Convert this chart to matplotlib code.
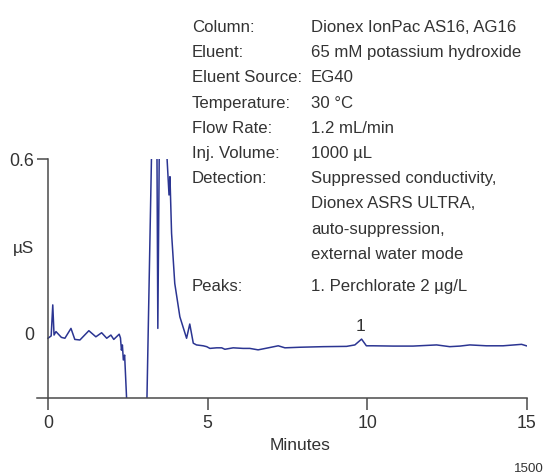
import matplotlib
matplotlib.use("Agg")
import matplotlib.pyplot as plt

# ---- data ----
time_min = [0.00, 0.10, 0.15, 0.19, 0.25, 0.42, 0.53, 0.72, 0.84, 1.00,
            1.28, 1.50, 1.68, 1.84, 1.97, 2.06, 2.23, 2.27, 2.30, 2.33,
            2.36, 2.40, 2.46, 2.50, 3.05, 3.10, 3.24, 3.30, 3.40, 3.44,
            3.49, 3.55, 3.73, 3.79, 3.82, 3.87, 3.97, 4.13, 4.34, 4.44,
            4.55, 4.65, 4.86, 4.97, 5.07, 5.28, 5.44, 5.54, 5.80, 6.11,
            6.32, 6.58, 6.90, 7.21, 7.42, 7.89, 8.62, 9.35, 9.61, 9.82,
            9.97, 10.18, 10.81, 11.43, 12.17, 12.58, 12.90, 13.21, 13.73,
            14.25, 14.83, 14.98]
signal_uS = [-0.017, -0.009, 0.098, -0.006, 0.006, -0.014, -0.017, 0.017, -0.021, -0.023,
             0.009, -0.012, 0.002, -0.017, -0.006, -0.021, -0.003, -0.016, -0.058, -0.040,
             -0.092, -0.075, -0.220, -0.300, -0.300, -0.220, 0.600, 2.000, 0.900, 0.017,
             0.700, 2.000, 0.600, 0.477, 0.540, 0.345, 0.172, 0.057, -0.017, 0.032,
             -0.034, -0.040, -0.043, -0.046, -0.052, -0.050, -0.050, -0.055, -0.050, -0.052,
             -0.052, -0.057, -0.050, -0.043, -0.050, -0.048, -0.046, -0.045, -0.040, -0.020,
             -0.043, -0.043, -0.044, -0.044, -0.040, -0.046, -0.044, -0.040, -0.043,
             -0.043, -0.038, -0.043]

x_ticks = [0, 5, 10, 15]
y_ticks = [0, 0.6]
y_tick_labels = ["0", "0.6"]

peak_labels = ["1"]
peak_times = [9.80]
peak_label_y = [0.025]

cond_labels = ["Column:", "Eluent:", "Eluent Source:", "Temperature:", "Flow Rate:",
               "Inj. Volume:", "Detection:", "", "", "", "Peaks:"]
cond_values = ["Dionex IonPac AS16, AG16", "65 mM potassium hydroxide", "EG40",
               "30 °C", "1.2 mL/min", "1000 µL", "Suppressed conductivity,",
               "Dionex ASRS ULTRA,", "auto-suppression,", "external water mode",
               "1. Perchlorate 2 µg/L"]

# ---- styling ----
FONT = ["Liberation Sans", "DejaVu Sans"]
plt.rcParams["font.family"] = FONT
TXT = "#333333"
AX = "#4a4a4a"
TRACE = "#2b3592"

W, H = 543, 476
fig = plt.figure(figsize=(W / 100, H / 100), dpi=100)

left_px, right_px, top_px, bot_px = 36.8, 527.0, 159.3, 398.0
ax = fig.add_axes([left_px / W, 1 - bot_px / H, (right_px - left_px) / W, (bot_px - top_px) / H])
ax.set_xlim(-0.35, 15)
ax.set_ylim(-0.223, 0.6)

ax.plot(time_min, signal_uS, color=TRACE, lw=1.1, solid_joinstyle="round")

for s in ("top", "right"):
    ax.spines[s].set_visible(False)
ax.spines["left"].set_position(("data", 0))
for s in ("left", "bottom"):
    ax.spines[s].set_color(AX)
    ax.spines[s].set_linewidth(1.1)

ax.set_xticks(x_ticks)
ax.set_xticklabels([str(t) for t in x_ticks])
ax.set_yticks(y_ticks)
ax.set_yticklabels(y_tick_labels)
ax.tick_params(axis="x", direction="out", length=8.6, width=1.1, color=AX,
               pad=3.6, labelsize=12.8, labelcolor=TXT)
ax.tick_params(axis="y", direction="out", length=8.1, width=1.1, color=AX,
               pad=1.7, labelsize=12.8, labelcolor=TXT)
ax.yaxis.get_major_ticks()[0].tick1line.set_visible(False)

for lab, t, yv in zip(peak_labels, peak_times, peak_label_y):
    ax.text(t, yv, lab, ha="center", va="center", fontsize=12.5, color=TXT)

# axis titles
fig.text(300 / W, 1 - 446 / H, "Minutes", ha="center", va="center", fontsize=12.5, color=TXT)
fig.text(23 / W, 1 - 249 / H, "µS", ha="center", va="center", fontsize=12.3, color=TXT)

# conditions block
baselines = [32.0, 57.2, 82.4, 107.6, 132.8, 158.0, 183.2, 208.4, 233.6, 258.8, 291.0]
for lab, val, yb in zip(cond_labels, cond_values, baselines):
    if lab:
        fig.text(191.7 / W, 1 - yb / H, lab, ha="left", va="baseline", fontsize=12.1, color=TXT)
    fig.text(311.0 / W, 1 - yb / H, val, ha="left", va="baseline", fontsize=12.1, color=TXT)

fig.text(514 / W, 1 - 469 / H, "1500", ha="left", va="center", fontsize=9.6, color=TXT)

fig.savefig("out.png", dpi=100)
